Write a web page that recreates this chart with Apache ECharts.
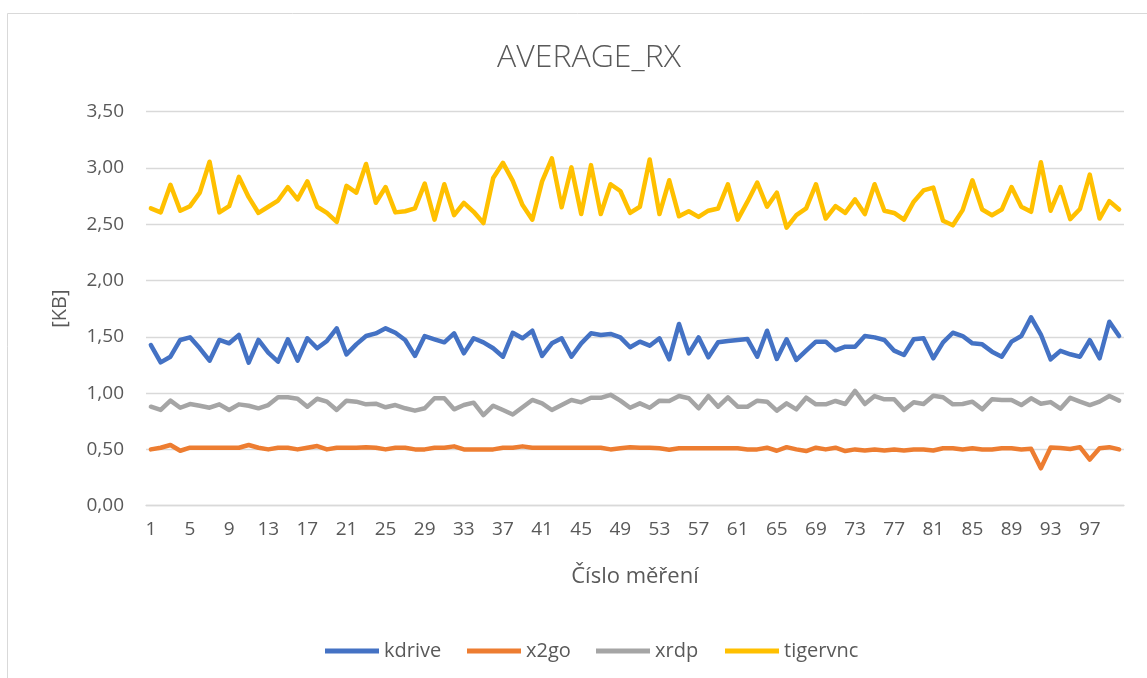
<!DOCTYPE html>
<html>
<head>
<meta charset="utf-8">
<script src="https://cdn.jsdelivr.net/npm/echarts@6.0.0/dist/echarts.min.js"></script>
<style>
html,body{margin:0;padding:0;background:#fff;}
#chart{width:1147px;height:678px;}
</style>
</head>
<body>
<div id="chart"></div>
<script>
const titleText = 'AVERAGE_RX';
const xAxisName = 'Číslo měření';
const yAxisName = '[KB]';
const seriesNames = ['kdrive', 'x2go', 'xrdp', 'tigervnc'];
const seriesColors = ['#4472C4', '#ED7D31', '#A5A5A5', '#FFC000'];

const categories = [];
for (let i = 1; i <= 100; i++) categories.push(String(i));

const kdrive = [1.427,1.273,1.323,1.472,1.495,1.398,1.288,1.472,1.442,1.516,
1.27,1.472,1.359,1.279,1.478,1.288,1.487,1.398,1.463,1.575,
1.344,1.433,1.507,1.53,1.575,1.536,1.472,1.33,1.507,1.478,
1.451,1.531,1.353,1.487,1.451,1.398,1.323,1.536,1.487,1.554,
1.33,1.442,1.487,1.323,1.442,1.531,1.516,1.525,1.495,1.407,
1.457,1.421,1.487,1.30,1.614,1.353,1.495,1.318,1.451,1.463,
1.472,1.48,1.323,1.554,1.303,1.478,1.294,1.377,1.457,1.457,
1.38,1.412,1.412,1.507,1.495,1.472,1.377,1.338,1.478,1.487,
1.309,1.451,1.536,1.507,1.442,1.433,1.368,1.323,1.457,1.507,
1.673,1.52,1.30,1.375,1.345,1.323,1.47,1.309,1.634,1.507];

const x2go = [0.50,0.515,0.539,0.488,0.515,0.515,0.515,0.515,0.515,0.515,
0.539,0.515,0.50,0.515,0.515,0.50,0.515,0.53,0.50,0.515,
0.515,0.515,0.52,0.515,0.50,0.515,0.515,0.50,0.50,0.515,
0.515,0.527,0.50,0.50,0.50,0.50,0.515,0.515,0.527,0.515,
0.515,0.515,0.515,0.515,0.515,0.515,0.515,0.50,0.51,0.52,
0.515,0.515,0.51,0.497,0.51,0.51,0.51,0.51,0.51,0.51,
0.51,0.50,0.50,0.515,0.488,0.52,0.50,0.485,0.515,0.50,
0.515,0.485,0.50,0.49,0.50,0.49,0.50,0.49,0.50,0.50,
0.49,0.51,0.51,0.50,0.51,0.50,0.50,0.51,0.51,0.50,
0.505,0.332,0.517,0.512,0.503,0.52,0.41,0.51,0.52,0.50];

const xrdp = [0.879,0.85,0.933,0.87,0.903,0.888,0.87,0.90,0.85,0.90,
0.888,0.865,0.894,0.963,0.963,0.95,0.879,0.95,0.924,0.85,
0.933,0.924,0.90,0.906,0.874,0.894,0.865,0.844,0.865,0.954,
0.954,0.856,0.894,0.915,0.805,0.888,0.85,0.81,0.874,0.939,
0.909,0.85,0.894,0.939,0.918,0.959,0.958,0.985,0.933,0.87,
0.909,0.87,0.933,0.93,0.974,0.954,0.865,0.974,0.879,0.963,
0.879,0.879,0.933,0.924,0.844,0.909,0.856,0.959,0.90,0.90,
0.93,0.903,1.019,0.903,0.974,0.945,0.945,0.85,0.918,0.903,
0.977,0.963,0.90,0.903,0.924,0.856,0.945,0.939,0.939,0.894,
0.954,0.905,0.92,0.862,0.958,0.924,0.894,0.924,0.974,0.933];

const tigervnc = [2.64,2.605,2.85,2.62,2.66,2.78,3.055,2.605,2.66,2.92,
2.74,2.60,2.655,2.71,2.83,2.72,2.88,2.655,2.60,2.52,
2.84,2.78,3.035,2.69,2.83,2.605,2.615,2.64,2.86,2.54,
2.855,2.58,2.69,2.61,2.51,2.91,3.045,2.885,2.67,2.54,
2.88,3.085,2.65,3.005,2.59,3.025,2.59,2.855,2.795,2.60,
2.655,3.075,2.59,2.89,2.57,2.615,2.565,2.62,2.64,2.855,
2.54,2.70,2.87,2.655,2.78,2.47,2.58,2.64,2.855,2.55,
2.66,2.60,2.72,2.59,2.855,2.62,2.60,2.54,2.70,2.80,
2.825,2.53,2.49,2.625,2.89,2.63,2.58,2.63,2.83,2.655,
2.61,3.05,2.62,2.83,2.545,2.635,2.94,2.55,2.705,2.63];

const seriesData = [kdrive, x2go, xrdp, tigervnc];
const yTicks = { min: 0, max: 3.5, interval: 0.5 };

const FONT = '"Open Sans", "Noto Sans", sans-serif';
const TXT = '#595959';
const legendLefts = [320, 462, 591, 720];

const chart = echarts.init(document.getElementById('chart'), null, { renderer: 'canvas' });
chart.setOption({
  animation: false,
  backgroundColor: '#ffffff',
  graphic: [{
    type: 'rect',
    shape: { x: 7.5, y: 13.5, width: 1160, height: 700 },
    style: { fill: 'none', stroke: '#d9d9d9', lineWidth: 1 },
    silent: true, z: -10
  }],
  title: {
    text: titleText,
    left: 584,
    top: 37,
    textAlign: 'center',
    textStyle: { fontFamily: FONT, fontSize: 32, fontWeight: 300, color: TXT }
  },
  grid: { left: 146, right: 23, top: 111.6, bottom: 172.3, containLabel: false },
  legend: seriesNames.map((n, i) => ({
    data: [n],
    left: legendLefts[i],
    top: 636,
    icon: 'rect',
    itemWidth: 54,
    itemHeight: 5,
    itemGap: 0,
    textStyle: { fontFamily: FONT, fontSize: 20, color: TXT }
  })),
  xAxis: {
    type: 'category',
    data: categories,
    boundaryGap: true,
    name: xAxisName,
    nameLocation: 'middle',
    nameGap: 60,
    nameTextStyle: { fontFamily: FONT, fontSize: 22, color: TXT },
    axisLine: { lineStyle: { color: '#d9d9d9', width: 1.3 } },
    axisTick: { show: false },
    axisLabel: { interval: 3, margin: 14, fontFamily: FONT, fontSize: 19, color: TXT }
  },
  yAxis: {
    type: 'value',
    min: yTicks.min,
    max: yTicks.max,
    interval: yTicks.interval,
    name: yAxisName,
    nameLocation: 'middle',
    nameGap: 76,
    nameTextStyle: { fontFamily: FONT, fontSize: 20, color: TXT },
    axisLine: { show: false },
    axisTick: { show: false },
    splitLine: { lineStyle: { color: '#d9d9d9', width: 1.3 } },
    axisLabel: {
      margin: 22, fontFamily: FONT, fontSize: 19, color: TXT,
      formatter: v => v.toFixed(2).replace('.', ',')
    }
  },
  series: seriesNames.map((n, i) => ({
    name: n,
    type: 'line',
    data: seriesData[i],
    showSymbol: false,
    symbol: 'none',
    smooth: false,
    color: seriesColors[i],
    lineStyle: { width: 4.5, color: seriesColors[i], cap: 'round', join: 'round' }
  }))
});
</script>
</body>
</html>
